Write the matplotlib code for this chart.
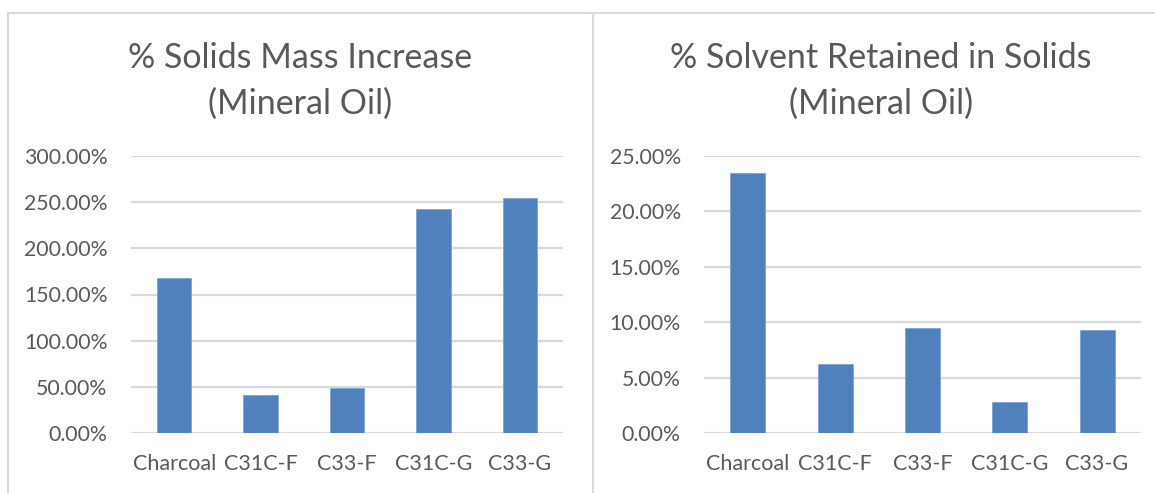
import matplotlib.pyplot as plt
from matplotlib.lines import Line2D
from matplotlib.ticker import PercentFormatter

plt.rcParams['font.family'] = ['Lato', 'DejaVu Sans']

categories = ['Charcoal', 'C31C-F', 'C33-F', 'C31C-G', 'C33-G']
mass_increase = [168.3, 41.3, 48.5, 242.7, 254.6]      # %
solvent_retained = [23.47, 6.24, 9.45, 2.85, 9.30]     # %

BAR = '#4f81bd'
TEXT = '#595959'
GRID = '#d9d9d9'

W, H = 1155, 493
fig = plt.figure(figsize=(W / 100, H / 100), dpi=100)


def px(x0, y0, x1, y1):
    """Pixel box (top-left origin) to figure axes rect."""
    return [x0 / W, 1 - y1 / H, (x1 - x0) / W, (y1 - y0) / H]


def bar_panel(rect, values, ymax, step, title, title_x):
    ax = fig.add_axes(rect)
    ax.bar(range(len(categories)), values, width=0.4, color=BAR,
           edgecolor='#7fa3d0', linewidth=0.6, zorder=3)
    ax.set_xlim(-0.5, len(categories) - 0.5)
    ax.set_ylim(0, ymax)
    ax.set_yticks([i * step for i in range(int(round(ymax / step)) + 1)])
    ax.yaxis.set_major_formatter(PercentFormatter(decimals=2))
    ax.set_xticks(range(len(categories)))
    ax.set_xticklabels(categories)
    ax.yaxis.grid(True, color=GRID, linewidth=1.6, zorder=0)
    for s in ax.spines.values():
        s.set_visible(False)
    ax.tick_params(axis='y', length=0, pad=17, labelsize=15.3, labelcolor=TEXT)
    ax.tick_params(axis='x', length=0, pad=15, labelsize=15.5, labelcolor=TEXT)
    fig.text(title_x / W, 1 - 81 / H, title, ha='center', va='center',
             fontsize=24.5, color=TEXT, linespacing=1.5)
    return ax


bar_panel(px(131, 155.7, 563, 433.3), mass_increase, 300, 50,
          '% Solids Mass Increase\n(Mineral Oil)', 300)
bar_panel(px(704.3, 155.7, 1140.7, 433.3), solvent_retained, 25, 5,
          '% Solvent Retained in Solids\n(Mineral Oil)', 881)

# chart frames
frame = dict(color=GRID, linewidth=1.5, transform=fig.transFigure)
fig.add_artist(Line2D([7.5 / W, 1], [1 - 12.5 / H, 1 - 12.5 / H], **frame))
fig.add_artist(Line2D([7.5 / W, 7.5 / W], [0, 1 - 12.5 / H], **frame))
fig.add_artist(Line2D([592.5 / W, 592.5 / W], [0, 1 - 12.5 / H], **frame))

fig.savefig('out.png', dpi=100)
